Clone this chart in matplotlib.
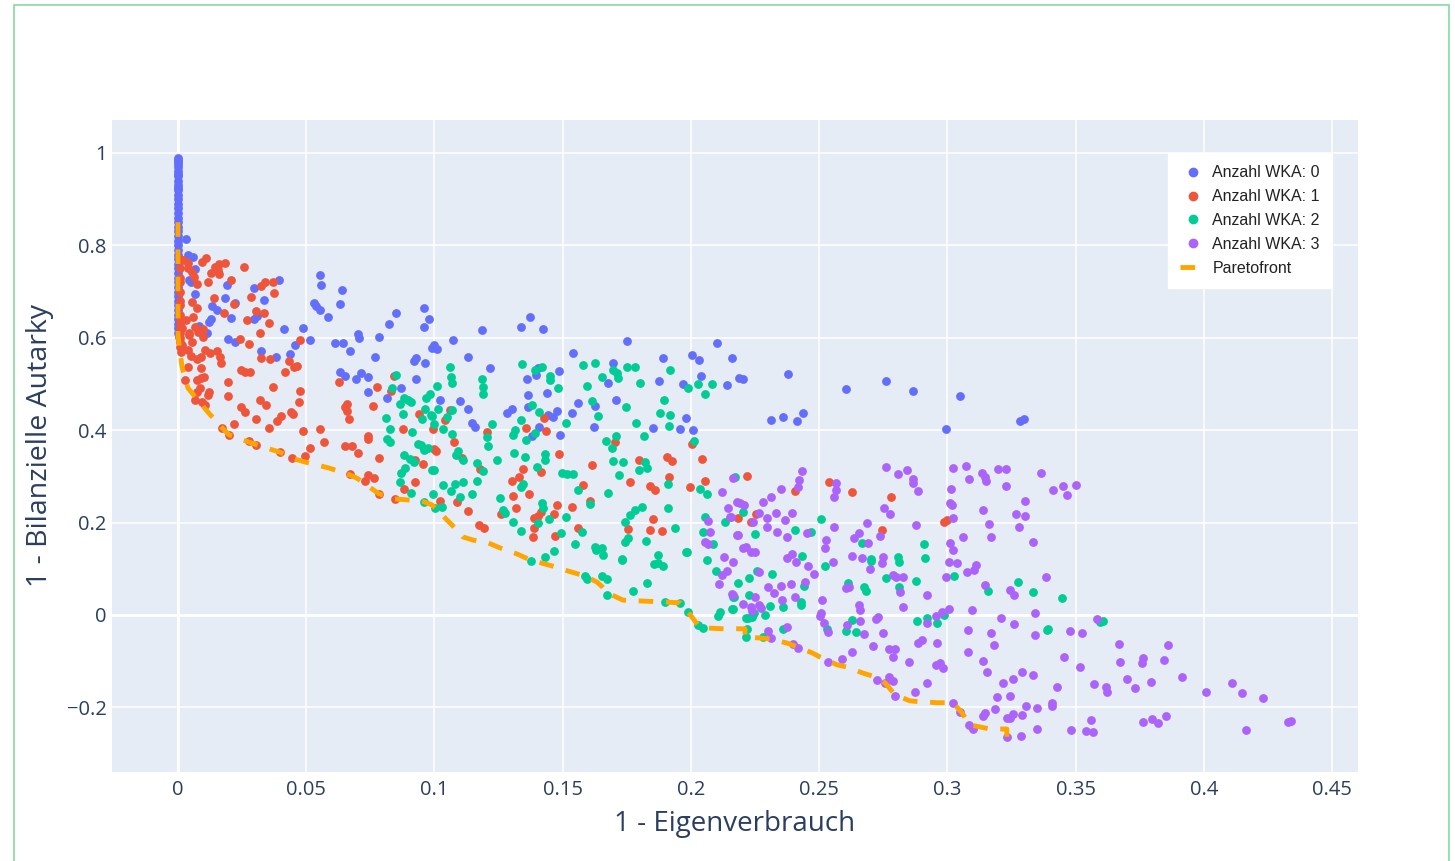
import numpy as np
import matplotlib.pyplot as plt
from matplotlib.lines import Line2D
from matplotlib.patches import Rectangle

# ---- data (x = 1 - Eigenverbrauch, y = 1 - Bilanzielle Autarky) ----
wka0_col_y = [0.99, 0.985, 0.98, 0.975, 0.97, 0.96, 0.955, 0.95, 0.94, 0.93, 0.925, 0.92, 0.91, 0.90,
              0.89, 0.88, 0.87, 0.86, 0.85, 0.84, 0.83, 0.82, 0.81, 0.80, 0.79, 0.78, 0.77, 0.76, 0.75,
              0.74, 0.73, 0.72, 0.71, 0.70, 0.69, 0.68, 0.67, 0.66, 0.65, 0.64, 0.63, 0.62, 0.61]

wka0 = [(0.0031, 0.814), (0.0039, 0.779), (0.0058, 0.775), (0.0066, 0.749), (0.0043, 0.725), (0.0051, 0.721),
        (0.0191, 0.714), (0.0394, 0.725), (0.0296, 0.708), (0.0066, 0.695), (0.0183, 0.686), (0.0335, 0.682),
        (0.0222, 0.675), (0.0133, 0.669), (0.0152, 0.660), (0.0207, 0.643), (0.0296, 0.641), (0.0308, 0.647),
        (0.0129, 0.641), (0.0121, 0.634), (0.0082, 0.626), (0.0113, 0.610), (0.0554, 0.736), (0.0558, 0.714),
        (0.064, 0.703), (0.0632, 0.673), (0.053, 0.675), (0.0538, 0.669), (0.0554, 0.660), (0.0585, 0.645),
        (0.0413, 0.619), (0.0487, 0.621), (0.0195, 0.597), (0.0222, 0.591), (0.0456, 0.584), (0.0515, 0.595),
        (0.0612, 0.589), (0.0643, 0.589), (0.0702, 0.608), (0.0706, 0.600), (0.0784, 0.602), (0.0823, 0.630),
        (0.085, 0.654), (0.0959, 0.665), (0.0979, 0.641), (0.0959, 0.623), (0.1072, 0.595), (0.0998, 0.584),
        (0.1185, 0.617), (0.1338, 0.623), (0.1373, 0.645), (0.1423, 0.619), (0.1751, 0.593), (0.2102, 0.589),
        (0.0324, 0.571), (0.0382, 0.558), (0.0437, 0.565), (0.0671, 0.571), (0.0768, 0.558), (0.0632, 0.526),
        (0.0651, 0.517), (0.0694, 0.511), (0.0714, 0.524), (0.0741, 0.515), (0.0741, 0.483), (0.0815, 0.470),
        (0.087, 0.491), (0.0928, 0.511), (0.092, 0.550), (0.0928, 0.556), (0.0963, 0.545), (0.099, 0.578),
        (0.101, 0.576), (0.1131, 0.558), (0.1217, 0.535), (0.1022, 0.465), (0.11, 0.463), (0.1131, 0.446),
        (0.1146, 0.416), (0.1158, 0.407), (0.1283, 0.437), (0.1302, 0.446), (0.1361, 0.511), (0.1396, 0.519),
        (0.1404, 0.535), (0.1365, 0.476), (0.1365, 0.450), (0.1439, 0.481), (0.1486, 0.528), (0.154, 0.567),
        (0.1443, 0.433), (0.1462, 0.429), (0.1478, 0.442), (0.1408, 0.407), (0.138, 0.387), (0.149, 0.390),
        (0.1536, 0.437), (0.156, 0.459), (0.1626, 0.452), (0.1622, 0.407), (0.1677, 0.502), (0.1696, 0.545),
        (0.1708, 0.465), (0.1852, 0.405), (0.1876, 0.507), (0.1891, 0.556), (0.1958, 0.403), (0.1981, 0.426),
        (0.2008, 0.400), (0.1969, 0.500), (0.2004, 0.563), (0.2032, 0.552), (0.2039, 0.517), (0.2141, 0.498),
        (0.216, 0.556), (0.2188, 0.513), (0.2203, 0.511), (0.2379, 0.522), (0.2312, 0.422), (0.2359, 0.429),
        (0.2414, 0.420), (0.2437, 0.437), (0.2605, 0.489), (0.2761, 0.507), (0.2866, 0.485), (0.3049, 0.474),
        (0.2995, 0.403), (0.3283, 0.420), (0.3299, 0.424)]

wka1_col_y = [0.77, 0.75, 0.73, 0.72, 0.70, 0.68, 0.67, 0.65, 0.64, 0.63, 0.62, 0.61, 0.60, 0.59, 0.58]

wka1 = [(0.002, 0.768), (0.0039, 0.762), (0.0039, 0.751), (0.0094, 0.764), (0.0109, 0.773), (0.0144, 0.753),
        (0.016, 0.760), (0.0183, 0.762), (0.0156, 0.747), (0.0129, 0.740), (0.016, 0.738), (0.0055, 0.742),
        (0.0062, 0.732), (0.0074, 0.716), (0.0117, 0.721), (0.0207, 0.725), (0.0257, 0.753), (0.037, 0.721),
        (0.0339, 0.721), (0.0324, 0.712), (0.0374, 0.697), (0.014, 0.686), (0.0055, 0.677), (0.0285, 0.688),
        (0.0218, 0.673), (0.0074, 0.665), (0.0179, 0.654), (0.0304, 0.658), (0.0335, 0.654), (0.0269, 0.639),
        (0.0355, 0.632), (0.0031, 0.639), (0.0058, 0.645), (0.0066, 0.623), (0.0097, 0.619), (0.0078, 0.613),
        (0.0043, 0.610), (0.0097, 0.602), (0.0016, 0.621), (0.032, 0.610), (0.0277, 0.587), (0.0055, 0.591),
        (0.0476, 0.595), (0.0004, 0.602), (0.0043, 0.606), (0.0016, 0.584), (0.0039, 0.574), (0.0012, 0.569),
        (0.0051, 0.561), (0.0074, 0.554), (0.009, 0.558), (0.0105, 0.574), (0.0125, 0.567), (0.0152, 0.571),
        (0.0164, 0.558), (0.0168, 0.545), (0.0039, 0.537), (0.009, 0.535), (0.0027, 0.509), (0.0074, 0.509),
        (0.009, 0.513), (0.0101, 0.515), (0.0086, 0.491), (0.0074, 0.483), (0.0121, 0.483), (0.0117, 0.476),
        (0.0066, 0.465), (0.0094, 0.461), (0.0105, 0.455), (0.0195, 0.504), (0.0195, 0.474), (0.0246, 0.530),
        (0.0261, 0.526), (0.0281, 0.526), (0.0242, 0.597), (0.0324, 0.556), (0.0359, 0.554), (0.0433, 0.550),
        (0.0452, 0.537), (0.0464, 0.539), (0.0417, 0.526), (0.037, 0.494), (0.0476, 0.485), (0.0472, 0.461),
        (0.032, 0.465), (0.0343, 0.455), (0.0246, 0.450), (0.0261, 0.439), (0.0441, 0.439), (0.0448, 0.435),
        (0.0402, 0.431), (0.0386, 0.420), (0.0304, 0.424), (0.0218, 0.413), (0.0355, 0.405), (0.0487, 0.398),
        (0.0554, 0.403), (0.0569, 0.374), (0.0515, 0.361), (0.0495, 0.344), (0.0445, 0.340), (0.0398, 0.353),
        (0.0304, 0.368), (0.0277, 0.377), (0.0199, 0.390), (0.0172, 0.405), (0.0651, 0.450), (0.0659, 0.457),
        (0.0659, 0.442), (0.0667, 0.424), (0.0628, 0.504), (0.0776, 0.494), (0.076, 0.452), (0.0741, 0.387),
        (0.0741, 0.381), (0.0651, 0.366), (0.0679, 0.366), (0.0702, 0.351), (0.0784, 0.340), (0.0671, 0.305),
        (0.0741, 0.303), (0.0764, 0.297), (0.0729, 0.290), (0.0784, 0.262), (0.0846, 0.251), (0.0877, 0.403),
        (0.094, 0.435), (0.0924, 0.336), (0.0955, 0.327), (0.0924, 0.288), (0.0881, 0.273), (0.0831, 0.485),
        (0.0842, 0.517), (0.0994, 0.403), (0.1076, 0.374), (0.0998, 0.359), (0.1006, 0.355), (0.1041, 0.422),
        (0.1061, 0.444), (0.1107, 0.340), (0.1178, 0.316), (0.1205, 0.396), (0.1088, 0.245), (0.1022, 0.247),
        (0.1131, 0.225), (0.1174, 0.195), (0.1193, 0.188), (0.1357, 0.405), (0.1427, 0.426), (0.1435, 0.398),
        (0.1486, 0.348), (0.1416, 0.310), (0.1345, 0.316), (0.133, 0.299), (0.1302, 0.290), (0.1306, 0.258),
        (0.1369, 0.262), (0.1318, 0.232), (0.126, 0.219), (0.1388, 0.210), (0.1404, 0.214), (0.1416, 0.223),
        (0.1478, 0.238), (0.1466, 0.219), (0.1388, 0.188), (0.1384, 0.169), (0.147, 0.171), (0.1536, 0.234),
        (0.1579, 0.281), (0.1607, 0.247), (0.1614, 0.325), (0.1704, 0.374), (0.156, 0.188), (0.1763, 0.288),
        (0.1798, 0.336), (0.1841, 0.279), (0.186, 0.271), (0.1907, 0.342), (0.1926, 0.333), (0.1915, 0.299),
        (0.1852, 0.208), (0.1755, 0.186), (0.1841, 0.184), (0.1887, 0.182), (0.2004, 0.370), (0.2043, 0.338),
        (0.2055, 0.290), (0.1997, 0.277), (0.2184, 0.210), (0.2219, 0.301), (0.2406, 0.268), (0.2539, 0.288),
        (0.2628, 0.266), (0.278, 0.255), (0.2745, 0.184), (0.2987, 0.201), (0.2999, 0.206), (0.2234, 0.201),
        (0.2254, 0.219)]

wka2 = [(0.085, 0.519), (0.0835, 0.491), (0.0881, 0.470), (0.0897, 0.465), (0.0909, 0.461), (0.0967, 0.470),
        (0.0983, 0.478), (0.0866, 0.457), (0.0963, 0.446), (0.0987, 0.433), (0.0951, 0.424), (0.0877, 0.435),
        (0.0811, 0.426), (0.0827, 0.403), (0.0912, 0.396), (0.0815, 0.381), (0.0827, 0.374), (0.0936, 0.370),
        (0.0948, 0.368), (0.0959, 0.357), (0.0975, 0.361), (0.0881, 0.346), (0.0905, 0.338), (0.092, 0.331),
        (0.0885, 0.318), (0.087, 0.307), (0.0866, 0.288), (0.0909, 0.264), (0.0959, 0.245), (0.099, 0.314),
        (0.1061, 0.537), (0.1065, 0.515), (0.1068, 0.502), (0.101, 0.496), (0.1014, 0.446), (0.099, 0.431),
        (0.1068, 0.444), (0.1049, 0.429), (0.0998, 0.413), (0.1033, 0.403), (0.1068, 0.392), (0.0963, 0.359),
        (0.1092, 0.355), (0.1084, 0.346), (0.1111, 0.336), (0.1166, 0.329), (0.1189, 0.312), (0.0998, 0.314),
        (0.1033, 0.281), (0.108, 0.284), (0.1111, 0.288), (0.1065, 0.268), (0.1166, 0.290), (0.1146, 0.262),
        (0.11, 0.255), (0.0994, 0.262), (0.1029, 0.234), (0.1002, 0.232), (0.1185, 0.511), (0.1189, 0.494),
        (0.1189, 0.478), (0.1341, 0.543), (0.1392, 0.530), (0.1419, 0.537), (0.1451, 0.517), (0.1451, 0.509),
        (0.1482, 0.491), (0.138, 0.455), (0.1408, 0.439), (0.1338, 0.422), (0.1314, 0.400), (0.1306, 0.390),
        (0.1357, 0.379), (0.1392, 0.394), (0.1224, 0.413), (0.1205, 0.385), (0.1209, 0.366), (0.1244, 0.336),
        (0.131, 0.351), (0.1353, 0.342), (0.1431, 0.348), (0.1431, 0.336), (0.14, 0.320), (0.1345, 0.284),
        (0.1338, 0.277), (0.1256, 0.253), (0.1267, 0.227), (0.1275, 0.221), (0.1306, 0.201), (0.1338, 0.182),
        (0.1419, 0.242), (0.1423, 0.232), (0.1404, 0.199), (0.1447, 0.208), (0.1497, 0.307), (0.1517, 0.305),
        (0.154, 0.305), (0.1513, 0.212), (0.1494, 0.177), (0.1548, 0.154), (0.1575, 0.180), (0.156, 0.271),
        (0.1607, 0.240), (0.1677, 0.264), (0.1466, 0.139), (0.1431, 0.126), (0.1579, 0.541), (0.1626, 0.545),
        (0.1653, 0.515), (0.1595, 0.496), (0.1696, 0.530), (0.1712, 0.524), (0.1716, 0.513), (0.1751, 0.537),
        (0.1782, 0.537), (0.1802, 0.502), (0.1747, 0.450), (0.1614, 0.463), (0.1638, 0.431), (0.1513, 0.416),
        (0.1708, 0.387), (0.1669, 0.377), (0.1692, 0.361), (0.1696, 0.333), (0.1735, 0.331), (0.172, 0.303),
        (0.1821, 0.331), (0.1829, 0.318), (0.1798, 0.314), (0.1786, 0.416), (0.1817, 0.387), (0.1895, 0.465),
        (0.188, 0.437), (0.1919, 0.433), (0.1915, 0.409), (0.1919, 0.530), (0.1989, 0.491), (0.2028, 0.500),
        (0.2055, 0.478), (0.2082, 0.500), (0.1911, 0.284), (0.1911, 0.232), (0.1763, 0.216), (0.1782, 0.227),
        (0.1809, 0.234), (0.1743, 0.201), (0.1743, 0.158), (0.1755, 0.167), (0.1825, 0.160), (0.1938, 0.188),
        (0.1985, 0.136), (0.2012, 0.377), (0.2036, 0.273), (0.2063, 0.262), (0.2055, 0.212), (0.2047, 0.180),
        (0.2086, 0.154), (0.2133, 0.201), (0.1626, 0.147), (0.1653, 0.145), (0.1657, 0.130), (0.1731, 0.121),
        (0.1872, 0.130), (0.2172, 0.299), (0.2203, 0.223), (0.225, 0.175), (0.2406, 0.184), (0.2468, 0.180),
        (0.2507, 0.208), (0.2667, 0.156), (0.2909, 0.154), (0.2433, 0.128), (0.2808, 0.126), (0.2913, 0.123),
        (0.2702, 0.121), (0.1377, 0.117), (0.1587, 0.084), (0.1595, 0.078), (0.163, 0.141), (0.1653, 0.084),
        (0.1673, 0.078), (0.1673, 0.043), (0.1774, 0.052), (0.1731, 0.119), (0.1829, 0.069), (0.1856, 0.110),
        (0.1872, 0.113), (0.1891, 0.106), (0.1899, 0.028), (0.1958, 0.026), (0.1981, 0.136), (0.1989, 0.006),
        (0.2028, -0.022), (0.2047, -0.028), (0.2063, 0.119), (0.2098, 0.095), (0.2106, -0.002), (0.2114, 0.006),
        (0.216, 0.013), (0.2164, 0.039), (0.2184, 0.069), (0.2227, 0.080), (0.2258, 0.095), (0.2316, 0.089),
        (0.2441, 0.063), (0.2429, 0.028), (0.2429, 0.022), (0.2309, 0.019), (0.2227, 0.043), (0.2359, 0.017),
        (0.2168, 0.039), (0.2164, 0.013), (0.2289, 0.000), (0.2246, 0.004), (0.2238, -0.004), (0.2223, -0.006),
        (0.2215, -0.006), (0.2215, -0.048), (0.2219, -0.030), (0.2359, -0.030), (0.2281, -0.048), (0.2523, 0.106),
        (0.2531, -0.030), (0.2613, 0.069), (0.2675, 0.061), (0.2683, 0.052), (0.2628, -0.011), (0.2605, -0.035),
        (0.2644, -0.037), (0.2702, 0.117), (0.2761, 0.080), (0.2812, 0.115), (0.2812, 0.061), (0.2878, 0.074),
        (0.2882, -0.013), (0.2921, -0.006), (0.296, -0.017), (0.2987, 0.000), (0.3026, 0.084), (0.3159, 0.052),
        (0.3276, 0.071), (0.3334, 0.050), (0.3389, -0.032), (0.3447, 0.037), (0.3393, -0.030), (0.3595, -0.015),
        (0.3607, -0.013)]

wka3 = [(0.2164, 0.297), (0.2121, 0.266), (0.218, 0.245), (0.2145, 0.232), (0.2153, 0.212), (0.2067, 0.203),
        (0.2075, 0.180), (0.218, 0.173), (0.2055, 0.158), (0.2067, 0.154), (0.2129, 0.126), (0.2433, 0.312),
        (0.2422, 0.292), (0.2418, 0.277), (0.2351, 0.273), (0.2312, 0.255), (0.2281, 0.245), (0.2192, 0.242),
        (0.2207, 0.238), (0.2266, 0.221), (0.2332, 0.221), (0.2394, 0.221), (0.2297, 0.210), (0.2367, 0.206),
        (0.2242, 0.201), (0.2156, 0.212), (0.2297, 0.190), (0.2336, 0.180), (0.2184, 0.173), (0.2375, 0.169),
        (0.2453, 0.177), (0.2203, 0.145), (0.2215, 0.147), (0.2234, 0.136), (0.225, 0.136), (0.2394, 0.132),
        (0.2375, 0.123), (0.2566, 0.286), (0.2566, 0.271), (0.2558, 0.255), (0.2753, 0.232), (0.2776, 0.219),
        (0.2761, 0.320), (0.2808, 0.305), (0.2843, 0.314), (0.2866, 0.294), (0.2866, 0.286), (0.2886, 0.268),
        (0.2878, 0.195), (0.2687, 0.199), (0.2558, 0.190), (0.2527, 0.162), (0.2523, 0.145), (0.2636, 0.167),
        (0.2656, 0.177), (0.2691, 0.156), (0.2737, 0.171), (0.2628, 0.128), (0.2667, 0.123), (0.2749, 0.126),
        (0.3022, 0.318), (0.3014, 0.273), (0.301, 0.242), (0.3018, 0.238), (0.3022, 0.210), (0.301, 0.156),
        (0.3022, 0.141), (0.3061, 0.169), (0.3073, 0.323), (0.3085, 0.294), (0.3135, 0.307), (0.3147, 0.299),
        (0.3151, 0.290), (0.3198, 0.316), (0.3229, 0.316), (0.3229, 0.279), (0.3139, 0.227), (0.3163, 0.197),
        (0.317, 0.169), (0.3268, 0.219), (0.3303, 0.247), (0.3303, 0.214), (0.328, 0.190), (0.3334, 0.158),
        (0.3365, 0.307), (0.3412, 0.271), (0.3451, 0.279), (0.3467, 0.260), (0.3502, 0.281), (0.2164, 0.115),
        (0.2141, 0.095), (0.2121, 0.087), (0.211, 0.067), (0.216, 0.045), (0.2266, 0.093), (0.2164, 0.043),
        (0.2203, 0.024), (0.2234, 0.017), (0.2238, 0.009), (0.2266, 0.022), (0.2273, 0.015), (0.225, 0.039),
        (0.2301, 0.061), (0.2324, 0.048), (0.2351, 0.063), (0.2355, 0.032), (0.239, 0.067), (0.2406, 0.039),
        (0.2375, -0.026), (0.2301, -0.035), (0.2312, -0.050), (0.2398, -0.063), (0.2418, -0.071), (0.2445, 0.071),
        (0.2457, 0.106), (0.248, 0.089), (0.241, 0.115), (0.2511, 0.032), (0.2507, 0.004), (0.2503, -0.002),
        (0.2519, -0.017), (0.2535, -0.037), (0.2554, 0.115), (0.2535, -0.102), (0.2589, -0.095), (0.2628, -0.080),
        (0.2609, -0.022), (0.266, -0.013), (0.2605, 0.058), (0.2617, 0.061), (0.2656, 0.022), (0.266, 0.011),
        (0.2698, 0.100), (0.2675, -0.041), (0.271, -0.067), (0.2749, -0.039), (0.2722, -0.009), (0.273, -0.004),
        (0.2745, 0.113), (0.2788, 0.087), (0.28, 0.082), (0.2827, 0.082), (0.2815, 0.050), (0.2827, 0.017),
        (0.2773, -0.074), (0.2796, -0.074), (0.2788, -0.091), (0.2726, -0.141), (0.2773, -0.134), (0.2788, -0.143),
        (0.2796, -0.175), (0.2851, -0.102), (0.2874, -0.167), (0.2921, -0.147), (0.2886, -0.061), (0.2901, -0.054),
        (0.2921, 0.043), (0.2921, -0.017), (0.2956, -0.002), (0.296, -0.061), (0.2956, -0.108), (0.2971, -0.104),
        (0.2983, -0.115), (0.2979, 0.006), (0.3007, 0.013), (0.2995, 0.082), (0.3007, 0.115), (0.3038, 0.113),
        (0.3022, -0.190), (0.3049, -0.210), (0.3077, 0.093), (0.3104, 0.097), (0.3112, 0.108), (0.3096, 0.011),
        (0.3081, -0.032), (0.3081, -0.080), (0.3139, -0.100), (0.3155, -0.123), (0.3147, 0.065), (0.317, -0.039),
        (0.3182, -0.065), (0.3209, -0.006), (0.3244, 0.054), (0.326, 0.043), (0.326, -0.019), (0.3217, -0.147),
        (0.3194, -0.177), (0.3244, -0.175), (0.3256, -0.139), (0.3291, -0.123), (0.3334, -0.130), (0.3307, -0.197),
        (0.335, -0.201), (0.3291, -0.216), (0.3186, -0.203), (0.3147, -0.212), (0.3139, -0.219), (0.3233, -0.223),
        (0.3244, -0.223), (0.3256, -0.214), (0.335, -0.247), (0.3287, -0.262), (0.3233, -0.264), (0.3085, -0.238),
        (0.31, -0.247), (0.2757, -0.147), (0.3385, 0.082), (0.3342, 0.004), (0.3342, -0.043), (0.3584, -0.009),
        (0.3478, -0.035), (0.3525, -0.039), (0.3669, -0.063), (0.3861, -0.065), (0.3455, -0.091), (0.3517, -0.113),
        (0.3673, -0.102), (0.3763, -0.093), (0.3759, -0.104), (0.3845, -0.097), (0.3701, -0.139), (0.3572, -0.149),
        (0.3619, -0.156), (0.3623, -0.167), (0.3732, -0.158), (0.3794, -0.145), (0.3915, -0.134), (0.3428, -0.156),
        (0.3408, -0.190), (0.3408, -0.197), (0.4009, -0.167), (0.411, -0.147), (0.4149, -0.169), (0.4231, -0.180),
        (0.356, -0.227), (0.3482, -0.249), (0.3541, -0.251), (0.3568, -0.253), (0.3763, -0.232), (0.3798, -0.225),
        (0.3822, -0.234), (0.3853, -0.219), (0.4165, -0.249), (0.4329, -0.232), (0.434, -0.229)]

pareto = [(0.0, 0.85), (0.0, 0.606), (0.0016, 0.536), (0.0039, 0.491), (0.012, 0.437), (0.0172, 0.405),
          (0.0199, 0.390), (0.0277, 0.374), (0.0308, 0.368), (0.0398, 0.352), (0.0452, 0.338), (0.0495, 0.331),
          (0.0589, 0.318), (0.067, 0.303), (0.0698, 0.296), (0.0784, 0.262), (0.0846, 0.251), (0.0893, 0.249),
          (0.0959, 0.245), (0.0991, 0.238), (0.1041, 0.210), (0.1068, 0.195), (0.111, 0.169), (0.115, 0.162),
          (0.1209, 0.156), (0.1256, 0.145), (0.1322, 0.132), (0.1373, 0.119), (0.1459, 0.106), (0.1521, 0.095),
          (0.1588, 0.084), (0.1634, 0.071), (0.1654, 0.061), (0.1673, 0.048), (0.1735, 0.032), (0.181, 0.030),
          (0.1899, 0.028), (0.1958, 0.026), (0.1989, 0.006), (0.2028, -0.022), (0.2047, -0.028), (0.2125, -0.030),
          (0.2184, -0.030), (0.2211, -0.030), (0.2211, -0.048), (0.227, -0.050), (0.2309, -0.052), (0.2375, -0.061),
          (0.2414, -0.069), (0.2472, -0.082), (0.2503, -0.091), (0.257, -0.108), (0.2609, -0.113), (0.2671, -0.126),
          (0.2718, -0.134), (0.2757, -0.147), (0.2796, -0.173), (0.2854, -0.186), (0.2893, -0.188), (0.296, -0.190),
          (0.3022, -0.190), (0.3057, -0.212), (0.3088, -0.238), (0.3166, -0.247), (0.3232, -0.247), (0.3232, -0.264)]

labels = ["Anzahl WKA: 0", "Anzahl WKA: 1", "Anzahl WKA: 2", "Anzahl WKA: 3", "Paretofront"]
colors = ["#636EFA", "#EF553B", "#00CC96", "#AB63FA", "#FFA500"]
xticks = [0, 0.05, 0.1, 0.15, 0.2, 0.25, 0.3, 0.35, 0.4, 0.45]
yticks = [-0.2, 0, 0.2, 0.4, 0.6, 0.8, 1]

# ---- build the series ----
w0 = np.array(wka0)
w0x = np.concatenate([np.zeros(len(wka0_col_y)), w0[:, 0]])
w0y = np.concatenate([wka0_col_y, w0[:, 1]])
w1 = np.array(wka1)
w1x = np.concatenate([np.full(len(wka1_col_y), 0.0008), w1[:, 0]])
w1y = np.concatenate([wka1_col_y, w1[:, 1]])
w2 = np.array(wka2)
w3 = np.array(wka3)
pf = np.array(pareto)

txt = "#2a3f5f"
fig = plt.figure(figsize=(14.55, 8.61), dpi=100)
ax = fig.add_axes([0.077, 0.1034, 0.8563, 0.7573])
ax.set_facecolor("#E5ECF6")

ms = 40
ax.scatter(w0x, w0y, s=ms, color=colors[0], lw=0, zorder=3)
ax.scatter(w1x, w1y, s=ms, color=colors[1], lw=0, zorder=3)
ax.scatter(w2[:, 0], w2[:, 1], s=ms, color=colors[2], lw=0, zorder=3)
ax.scatter(w3[:, 0], w3[:, 1], s=ms, color=colors[3], lw=0, zorder=3)
ax.plot(pf[:, 0], pf[:, 1], color=colors[4], lw=3.5, dashes=(3, 2.6), zorder=4)

ax.set_xlim(-0.0257, 0.4601)
ax.set_ylim(-0.340, 1.0714)
ax.set_xticks(xticks)
ax.set_xticklabels(["0" if t == 0 else f"{t:g}" for t in xticks])
ax.set_yticks(yticks)
ax.set_yticklabels([f"{t:g}".replace("-", "\u2212") for t in yticks])
ax.grid(True, color="white", lw=1.1, zorder=0)
ax.axhline(0, color="white", lw=2, zorder=1)
ax.axvline(0, color="white", lw=2, zorder=1)
ax.set_axisbelow(True)
for s in ax.spines.values():
    s.set_visible(False)
ax.tick_params(length=0, labelsize=14.5, colors=txt)
ax.tick_params(axis="x", pad=6)
ax.tick_params(axis="y", pad=4)
for lab in ax.get_xticklabels() + ax.get_yticklabels():
    lab.set_fontfamily("Open Sans")

ax.set_xlabel("1 - Eigenverbrauch", fontsize=20, color=txt, family="Open Sans", labelpad=7)
ax.set_ylabel("1 - Bilanzielle Autarky", fontsize=20.5, color=txt, family="Open Sans", labelpad=9)

handles = [Line2D([], [], ls="none", marker="o", ms=6, color=c, mec=c) for c in colors[:4]]
handles.append(Line2D([], [], color=colors[4], lw=3.5, dashes=(3, 2.6)))
leg = ax.legend(handles, labels, loc="upper right", bbox_to_anchor=(0.979, 0.949), borderaxespad=0,
                fancybox=False, framealpha=1, edgecolor="white", prop={"family": "Liberation Sans", "size": 11.5},
                handlelength=1.7, labelspacing=0.56, borderpad=0.75, handletextpad=0.35)
for t in leg.get_texts():
    t.set_color("#222222")

# thin green frame around the whole picture
fig.patches.append(Rectangle((14 / 1455, -0.01), 1435 / 1455, 1 - 5 / 861 + 0.01, transform=fig.transFigure,
                             fill=False, edgecolor="#86D9A6", lw=1.2))

fig.savefig("out.png", dpi=100)
